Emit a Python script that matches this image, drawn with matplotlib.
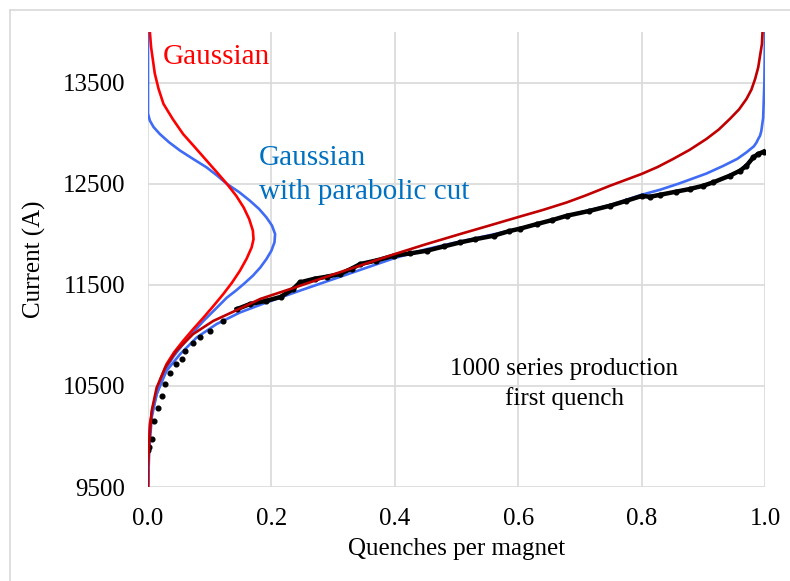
import matplotlib.pyplot as plt
from matplotlib.lines import Line2D

plt.rcParams['font.family'] = ['Liberation Serif', 'DejaVu Serif']

# measured quench current, first quench (fraction of magnets vs current)
meas_x = [0.000, 0.002, 0.006, 0.010, 0.017, 0.022, 0.028, 0.036, 0.046, 0.055,
          0.060, 0.073, 0.084, 0.100, 0.122, 0.144, 0.165, 0.192, 0.215, 0.235,
          0.246, 0.270, 0.290, 0.311, 0.330, 0.344, 0.370, 0.398, 0.425, 0.452,
          0.480, 0.506, 0.530, 0.560, 0.585, 0.603, 0.630, 0.655, 0.679, 0.715,
          0.749, 0.775, 0.800, 0.814, 0.830, 0.855, 0.878, 0.900, 0.916, 0.943,
          0.960, 0.970, 0.981, 0.989, 0.998]
meas_y = [9866, 9900, 9972, 10153, 10285, 10401, 10517, 10632, 10715, 10764,
          10847, 10929, 10979, 11045, 11143, 11259, 11309, 11342, 11380, 11457,
          11523, 11560, 11580, 11606, 11660, 11705, 11740, 11787, 11810, 11837,
          11880, 11919, 11950, 11985, 12030, 12055, 12100, 12140, 12183, 12230,
          12282, 12330, 12378, 12371, 12390, 12420, 12447, 12480, 12513, 12579,
          12630, 12678, 12760, 12794, 12817]

# cumulative of gaussian
gcum_x = [0.000, 0.000, 0.002, 0.006, 0.014, 0.028, 0.046, 0.073, 0.106, 0.144,
          0.182, 0.235, 0.311, 0.398, 0.450, 0.506, 0.550, 0.603, 0.640, 0.679,
          0.710, 0.749, 0.800, 0.826, 0.851, 0.878, 0.905, 0.925, 0.943, 0.958,
          0.970, 0.978, 0.984, 0.989, 0.992, 0.995, 0.996]
gcum_y = [9500, 9690, 9955, 10253, 10483, 10682, 10847, 11012, 11143, 11250,
          11360, 11467, 11624, 11800, 11900, 12002, 12080, 12175, 12240, 12315,
          12385, 12480, 12596, 12665, 12744, 12835, 12942, 13035, 13140, 13235,
          13338, 13430, 13536, 13650, 13767, 13880, 14000]

# cumulative of gaussian with parabolic cut
pcum_x = [0.000, 0.002, 0.006, 0.014, 0.030, 0.052, 0.079, 0.111, 0.149, 0.192,
          0.250, 0.300, 0.350, 0.400, 0.450, 0.500, 0.550, 0.600, 0.650, 0.700,
          0.750, 0.800, 0.830, 0.860, 0.878, 0.905, 0.932, 0.955, 0.970, 0.982,
          0.986, 0.989, 0.992, 0.994, 0.997, 0.999, 1.000]
pcum_y = [9500, 9857, 10187, 10418, 10649, 10814, 10979, 11111, 11226, 11325,
          11450, 11555, 11660, 11765, 11850, 11920, 11985, 12055, 12130, 12215,
          12290, 12390, 12440, 12500, 12540, 12600, 12675, 12745, 12810, 12870,
          12905, 12942, 12975, 13020, 13150, 13500, 14000]

# gaussian distribution (density)
gden_x = [0.003, 0.005, 0.008, 0.011, 0.017, 0.025, 0.040, 0.057, 0.076, 0.095,
          0.112, 0.128, 0.143, 0.155, 0.164, 0.170, 0.171, 0.168, 0.160, 0.149,
          0.136, 0.122, 0.106, 0.090, 0.073, 0.057, 0.042, 0.030, 0.021, 0.014,
          0.008, 0.003, 0.001, 0.000]
gden_y = [14000, 13850, 13720, 13590, 13440, 13290, 13140, 12990, 12860, 12728,
          12610, 12497, 12380, 12265, 12150, 12035, 11950, 11870, 11760, 11639,
          11520, 11408, 11290, 11176, 11060, 10946, 10830, 10715, 10580, 10450,
          10290, 10124, 9800, 9500]

# gaussian with parabolic cut (density)
pden_x = [0.000, 0.000, 0.003, 0.009, 0.019, 0.034, 0.052, 0.073, 0.095, 0.112,
          0.128, 0.148, 0.165, 0.180, 0.192, 0.201, 0.206, 0.205, 0.200, 0.192,
          0.182, 0.170, 0.155, 0.142, 0.128, 0.109, 0.090, 0.073, 0.057, 0.042,
          0.030, 0.021, 0.014, 0.007, 0.003, 0.001, 0.000]
pden_y = [14000, 13193, 13124, 13060, 12992, 12910, 12827, 12745, 12661, 12580,
          12497, 12415, 12332, 12250, 12166, 12085, 12002, 11920, 11837, 11755,
          11671, 11590, 11507, 11440, 11374, 11258, 11143, 11028, 10913, 10797,
          10682, 10550, 10417, 10250, 10087, 9800, 9500]

x_ticks = [0.0, 0.2, 0.4, 0.6, 0.8, 1.0]
y_ticks = [9500, 10500, 11500, 12500, 13500]

fig = plt.figure(figsize=(7.9, 5.81), dpi=100)
ax = fig.add_axes([148 / 790, 1 - 487 / 581, 617 / 790, 455 / 581])

ax.plot(pden_x, pden_y, color='#3F6BF5', lw=1.9, zorder=3)
ax.plot(gden_x, gden_y, color='#FF0000', lw=1.9, zorder=3)
ax.plot(pcum_x, pcum_y, color='#3F6BF5', lw=1.9, zorder=3)
upper = [i for i, v in enumerate(meas_y) if v >= 11250]
ax.plot([meas_x[i] for i in upper], [meas_y[i] for i in upper],
        color='black', lw=3.2, zorder=4)
ax.plot(meas_x, meas_y, 'o', color='black', ms=3.4, zorder=4)
ax.plot(gcum_x, gcum_y, color='#C00000', lw=1.9, zorder=5)

ax.set_xlim(0, 1.0)
ax.set_ylim(9500, 14000)
ax.set_xticks(x_ticks)
ax.set_xticklabels([f'{t:.1f}' for t in x_ticks])
ax.set_yticks(y_ticks)
ax.grid(True, color='#D9D9D9', lw=1.2)
ax.set_axisbelow(True)
for s in ax.spines.values():
    s.set_visible(False)
ax.tick_params(length=0, labelsize=18)
ax.tick_params(axis='x', pad=15)
ax.tick_params(axis='y', pad=16.5)

ax.set_xlabel('Quenches per magnet', fontsize=18, labelpad=6)
ax.set_ylabel('Current (A)', fontsize=18, labelpad=12)

ax.text(0.024, 13748, 'Gaussian', color='#FF0000', fontsize=21,
        ha='left', va='center')
ax.text(0.18, 12587, 'Gaussian\nwith parabolic cut', color='#0070C0',
        fontsize=21, ha='left', va='center', linespacing=1.4)
ax.text(0.675, 10515, '1000 series production\nfirst quench',
        fontsize=18, ha='center', va='center', linespacing=1.4)

# chart area frame
fig.add_artist(Line2D([10 / 790, 10 / 790], [0, 1 - 10 / 581],
                      transform=fig.transFigure, color='#D9D9D9', lw=1.2))
fig.add_artist(Line2D([10 / 790, 1], [1 - 10 / 581, 1 - 10 / 581],
                      transform=fig.transFigure, color='#D9D9D9', lw=1.2))

fig.savefig('out.png', dpi=100)
